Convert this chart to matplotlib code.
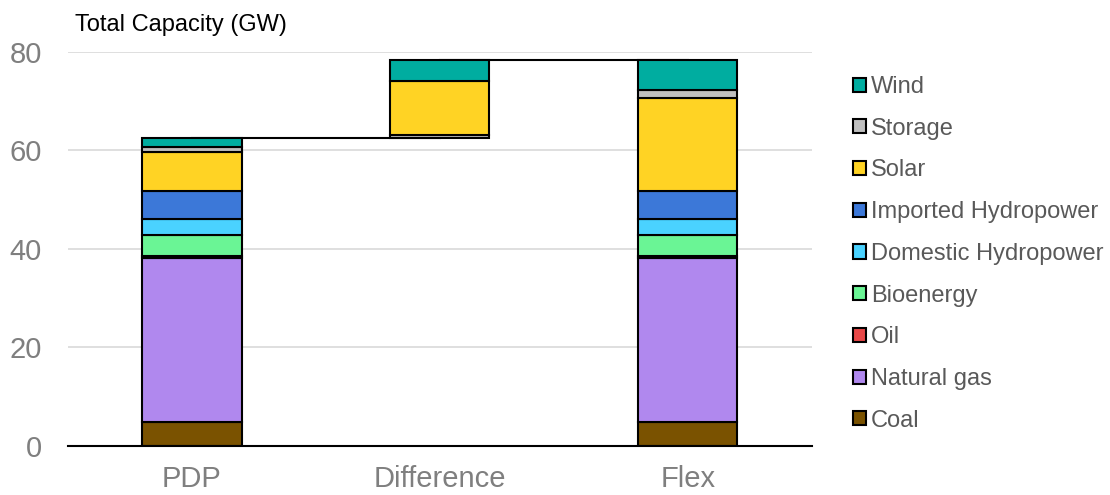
import matplotlib
matplotlib.use("Agg")
import matplotlib.pyplot as plt
from matplotlib.patches import Patch
import numpy as np

plt.rcParams["font.family"] = ["Liberation Sans", "DejaVu Sans"]

# Technologies, bottom of the stack first
technologies = ["Coal", "Natural gas", "Oil", "Bioenergy", "Domestic Hydropower",
                "Imported Hydropower", "Solar", "Storage", "Wind"]
colors = ["#7A5200", "#B088EE", "#E84848", "#6AF595", "#4AD2FF",
          "#3C78D8", "#FFD324", "#BFBFBF", "#00ADA0"]

# Installed capacity (GW)
pdp = [4.8, 33.4, 0.3, 4.3, 3.2, 5.8, 7.8, 1.1, 1.9]
flex = [4.8, 33.4, 0.3, 4.3, 3.2, 5.8, 18.8, 1.7, 6.1]

# Stacking order of the increments in the middle bar
diff_order = ["Storage", "Solar", "Wind"]

categories = ["PDP", "Difference", "Flex"]
y_ticks = [0, 20, 40, 60, 80]

pdp_arr = np.array(pdp)
flex_arr = np.array(flex)
diff_arr = flex_arr - pdp_arr

fig = plt.figure(figsize=(11.1, 4.95), dpi=100)
ax = fig.add_axes([0.0613, 0.099, 0.670, 0.796])

x = np.arange(len(categories))
width = 0.4
edge = dict(edgecolor="black", linewidth=1.5, zorder=3)

# Step connectors between the totals
pdp_total = pdp_arr.sum()
flex_total = flex_arr.sum()
ax.plot([x[0], x[1]], [pdp_total, pdp_total], color="black", lw=1.5, zorder=2)
ax.plot([x[1], x[2]], [flex_total, flex_total], color="black", lw=1.5, zorder=2)

# PDP and Flex stacks
for xi, vals in ((x[0], pdp_arr), (x[2], flex_arr)):
    bottoms = np.concatenate([[0], np.cumsum(vals)[:-1]])
    for v, b, c in zip(vals, bottoms, colors):
        ax.bar(xi, v, width, bottom=b, color=c, **edge)

# Difference stack floats on top of the PDP total
base = pdp_total
for name in diff_order:
    i = technologies.index(name)
    v = diff_arr[i]
    ax.bar(x[1], v, width, bottom=base, color=colors[i], **edge)
    base += v

ax.set_xlim(-0.5, len(categories) - 0.5)
ax.set_ylim(0, 80)
ax.set_yticks(y_ticks)
ax.set_xticks(x)
ax.set_xticklabels(categories)
ax.tick_params(axis="both", length=0, labelsize=21, labelcolor="#7F7F7F")
ax.tick_params(axis="y", pad=19)
ax.tick_params(axis="x", pad=14)
ax.grid(axis="y", color="#D9D9D9", lw=1.2, zorder=0)
ax.set_axisbelow(True)
for s in ("top", "right", "left"):
    ax.spines[s].set_visible(False)
ax.spines["bottom"].set_color("black")
ax.spines["bottom"].set_linewidth(1.5)
ax.spines["bottom"].set_zorder(4)

fig.text(75 / 1110, 1 - 31 / 495, "Total Capacity (GW)", fontsize=17,
         color="black", ha="left", va="baseline")

handles = [Patch(facecolor=c, edgecolor="black", linewidth=1.5, label=t)
           for t, c in zip(technologies, colors)][::-1]
fig.legend(handles=handles, loc="upper left", bbox_to_anchor=(853 / 1110, 1 - 76 / 495),
           frameon=False, fontsize=17, labelcolor="#595959",
           handlelength=0.55, handleheight=0.55, handletextpad=0.2,
           labelspacing=0.835, borderaxespad=0, borderpad=0)

fig.savefig("out.png", dpi=100)
